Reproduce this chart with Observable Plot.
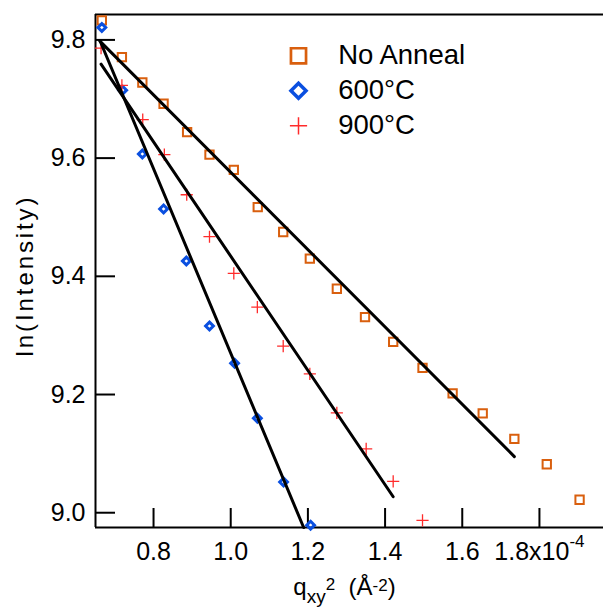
<!DOCTYPE html>
<html><head><meta charset="utf-8">
<script src="https://cdn.jsdelivr.net/npm/d3@7"></script>
<script src="https://cdn.jsdelivr.net/npm/@observablehq/plot@0.6"></script>
<style>
html,body{margin:0;padding:0;background:#fff;}
#chart svg{display:block;}
</style></head><body><div id="chart"></div>
<script>
// ---- data ----
const noAnnealX = [0.666,0.718,0.771,0.826,0.887,0.945,1.008,1.070,1.136,1.205,1.275,1.348,1.421,1.497,1.575,1.653,1.735,1.819,1.904];
const noAnnealY = [9.833,9.771,9.728,9.692,9.644,9.606,9.580,9.517,9.475,9.430,9.379,9.331,9.289,9.245,9.202,9.168,9.125,9.082,9.022];
const a600X = [0.666,0.720,0.771,0.826,0.885,0.945,1.010,1.069,1.137,1.207];
const a600Y = [9.821,9.715,9.607,9.514,9.426,9.316,9.253,9.160,9.052,8.979];
const a900X = [0.664,0.718,0.772,0.828,0.886,0.945,1.008,1.069,1.136,1.205,1.275,1.351,1.421,1.497];
const a900Y = [9.786,9.723,9.665,9.606,9.538,9.467,9.405,9.348,9.282,9.235,9.169,9.108,9.053,8.987];
// fitted lines (end points)
const fitNoAnnealX = [0.661, 1.735], fitNoAnnealY = [9.798, 9.095];
const fit600X = [0.661, 1.189], fit600Y = [9.799, 8.975];
const fit900X = [0.664, 1.421], fit900Y = [9.759, 9.027];
const xTicks = [0.8, 1.0, 1.2, 1.4, 1.6, 1.8];
const yTicks = [9.0, 9.2, 9.4, 9.6, 9.8];
const xDomain = [0.6496, 1.966];
const yDomain = [8.975, 9.843];
const seriesNames = ["No Anneal", "600°C", "900°C"];

// ---- styles ----
const colors = ["#D95F0E", "#0A4FE0", "#FF2B2B"];
const symbols = ["square2", "diamond2", "plus"];
const dataR = [5.3, 3.5, 4.0];
const dataSW = [2, 3, 1.3];
const legendR = [9.6, 6.8, 5.6];
const legendSW = [2.7, 3.5, 1.5];

const W = 603, H = 616, ML = 95, MR = 0, MT = 14, MB = 89;
const rows = (xs, ys, s) => xs.map((x, i) => ({series: s, x, y: ys[i]}));
const pts = [rows(noAnnealX, noAnnealY, 0), rows(a600X, a600Y, 1), rows(a900X, a900Y, 2)];
const fits = [
  ...rows(fitNoAnnealX, fitNoAnnealY, "a"),
  ...rows(fit600X, fit600Y, "b"),
  ...rows(fit900X, fit900Y, "c")
];

const legendMarks = [];
seriesNames.forEach((name, i) => {
  legendMarks.push(Plot.dot([name], {frameAnchor: "top-left", dx: 298 - ML, dy: 55.3 - MT + 35 * i,
    symbol: symbols[i], r: legendR[i], stroke: colors[i], strokeWidth: legendSW[i], fill: "none"}));
  legendMarks.push(Plot.text([name], {frameAnchor: "top-left", dx: 337.7 - ML, dy: 54.7 - MT + 35.2 * i,
    text: d => d, textAnchor: "start", lineAnchor: "middle", fontSize: 27.5, fill: "black"}));
});

const plot = Plot.plot({
  width: W, height: H,
  marginLeft: ML, marginRight: MR, marginTop: MT, marginBottom: MB,
  style: {fontFamily: "'Liberation Sans', Arial, Helvetica, sans-serif", background: "white", color: "black", overflow: "visible"},
  x: {domain: xDomain, label: null},
  y: {domain: yDomain, label: null},
  marks: [
    // frame lines
    Plot.ruleX([xDomain[0]], {stroke: "black", strokeWidth: 2}),
    Plot.ruleY([yDomain[0]], {stroke: "black", strokeWidth: 2}),
    Plot.ruleY([yDomain[1]], {stroke: "black", strokeWidth: 2}),
    // inward ticks
    Plot.ruleX(xTicks, {x: d => d, insetTop: (H - MT - MB) - 19, stroke: "black", strokeWidth: 2}),
    Plot.ruleY(yTicks, {y: d => d, insetRight: (W - ML - MR) - 20, stroke: "black", strokeWidth: 2}),
    Plot.axisX({ticks: xTicks, tickSize: 0, tickPadding: 15, fontSize: 25, label: null,
      tickFormat: d => d === 1.8 ? "1.8x10" : d.toFixed(1)}),
    Plot.axisY({ticks: yTicks, tickSize: 0, tickPadding: 10, fontSize: 25, label: null,
      tickFormat: d => d.toFixed(1)}),
    // data
    ...pts.map((p, i) => Plot.dot(p, {x: "x", y: "y", symbol: symbols[i], r: dataR[i],
      stroke: colors[i], strokeWidth: dataSW[i], fill: "none"})),
    Plot.line(fits, {x: "x", y: "y", z: "series", stroke: "black", strokeWidth: 3}),
    // legend
    ...legendMarks
  ]
});

const svg = d3.select(plot);
// superscript exponent on the last x tick label
svg.selectAll("text").each(function () {
  if (this.textContent === "1.8x10") {
    d3.select(this).append("tspan").attr("dy", -13).attr("font-size", 17).text("-4");
  }
});
// y axis title
const yr = plot.scale("y").range;
svg.append("text")
  .attr("transform", `translate(${ML - 62},${(yr[0] + yr[1]) / 2 + 5}) rotate(-90)`)
  .attr("text-anchor", "middle").attr("font-size", 24).attr("fill", "black")
  .style("letter-spacing", "2.9px")
  .text("ln(Intensity)");
// x axis title with sub/superscripts
const xr = plot.scale("x").range;
const xt = svg.append("text")
  .attr("x", (xr[0] + xr[1]) / 2 - 4.5).attr("y", 595)
  .attr("text-anchor", "middle").attr("font-size", 24).attr("fill", "black");
xt.append("tspan").text("q");
xt.append("tspan").attr("font-size", 19).attr("dy", 8).text("xy");
xt.append("tspan").attr("font-size", 17).attr("dy", -13).text("2");
xt.append("tspan").attr("font-size", 24).attr("dy", 5).text("\u00a0\u00a0(Å");
xt.append("tspan").attr("font-size", 17).attr("dy", -4).text("-2");
xt.append("tspan").attr("font-size", 24).attr("dy", 4).text(")");

document.getElementById("chart").appendChild(plot);
</script></body></html>
